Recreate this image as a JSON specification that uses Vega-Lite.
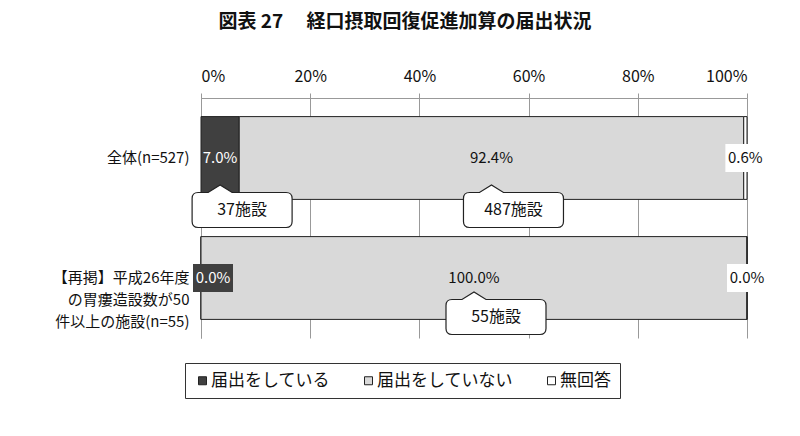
{
  "$schema": "https://vega.github.io/schema/vega-lite/v6.json",
  "width": 546,
  "height": 240,
  "autosize": {"type": "none"},
  "padding": {"left": 201, "top": 98, "right": 53, "bottom": 98},
  "title": {
    "text": "図表 27　 経口摂取回復促進加算の届出状況",
    "fontSize": 19,
    "font": "Noto Sans CJK JP",
    "fontWeight": "bold",
    "anchor": "middle",
    "dx": -69,
    "offset": 36,
    "color": "#111111"
  },
  "config": {"view": {"stroke": null}, "font": "Noto Sans CJK JP"},
  "data": {
    "values": [
      {"row": "全体(n=527)", "category": "届出をしている", "order": 1, "value": 7.0, "facilities": "37施設"},
      {"row": "全体(n=527)", "category": "届出をしていない", "order": 2, "value": 92.4, "facilities": "487施設"},
      {"row": "全体(n=527)", "category": "無回答", "order": 3, "value": 0.6, "facilities": null},
      {"row": "【再掲】平成26年度|の胃瘻造設数が50|件以上の施設(n=55)", "category": "届出をしている", "order": 1, "value": 0.0, "facilities": null},
      {"row": "【再掲】平成26年度|の胃瘻造設数が50|件以上の施設(n=55)", "category": "届出をしていない", "order": 2, "value": 100.0, "facilities": "55施設"},
      {"row": "【再掲】平成26年度|の胃瘻造設数が50|件以上の施設(n=55)", "category": "無回答", "order": 3, "value": 0.0, "facilities": null}
    ]
  },
  "transform": [
    {"stack": "value", "groupby": ["row"], "sort": [{"field": "order", "order": "ascending"}], "as": ["v0", "v1"]},
    {"calculate": "(datum.v0 + datum.v1) / 2", "as": "mid"},
    {"calculate": "format(datum.value, '.1f') + '%'", "as": "label"}
  ],
  "encoding": {
    "y": {
      "field": "row",
      "type": "nominal",
      "sort": ["全体(n=527)", "【再掲】平成26年度|の胃瘻造設数が50|件以上の施設(n=55)"],
      "scale": {"paddingInner": 0.31, "paddingOuter": 0.155},
      "axis": {
        "title": null,
        "labelExpr": "split(datum.label, '|')",
        "labelFontSize": 15,
        "labelColor": "#111111",
        "labelLineHeight": 22,
        "labelPadding": 12,
        "labelLimit": 300,
        "ticks": false,
        "domainColor": "#999999"
      }
    }
  },
  "layer": [
    {
      "mark": {"type": "bar", "stroke": "#222222", "strokeWidth": 1},
      "encoding": {
        "x": {
          "field": "v0",
          "type": "quantitative",
          "scale": {"domain": [0, 100], "nice": false},
          "axis": {
            "orient": "top",
            "title": null,
            "values": [0, 20, 40, 60, 80, 100],
            "labelExpr": "datum.value + '%'",
            "labelFontSize": 16,
            "labelColor": "#111111",
            "tickSize": 5,
            "labelPadding": 9,
            "grid": true,
            "gridColor": "#999999",
            "domainColor": "#999999",
            "tickColor": "#999999"
          }
        },
        "x2": {"field": "v1"},
        "color": {
          "field": "category",
          "type": "nominal",
          "scale": {"domain": ["届出をしている", "届出をしていない", "無回答"], "range": ["#404040", "#d9d9d9", "#ffffff"]},
          "legend": {
            "orient": "none",
            "legendX": -16,
            "legendY": 265,
            "direction": "horizontal",
            "title": null,
            "symbolType": "square",
            "symbolSize": 64,
            "symbolStrokeColor": "#222222",
            "symbolStrokeWidth": 1,
            "labelFontSize": 17,
            "labelColor": "#111111",
            "strokeColor": "#333333",
            "fillColor": "#ffffff",
            "padding": 9,
            "columnPadding": 30,
            "labelOffset": 0
          }
        }
      }
    },
    {
      "transform": [{"filter": "datum.category === '無回答'"}],
      "mark": {"type": "point", "shape": "M-1,-0.7L1,-0.7L1,0.7L-1,0.7Z", "size": 1600, "filled": true, "fill": "#ffffff", "opacity": 1, "strokeWidth": 0},
      "encoding": {"x": {"field": "mid", "type": "quantitative", "title": null}}
    },
    {
      "transform": [{"filter": "datum.category === '届出をしている' && datum.value < 1"}],
      "mark": {"type": "point", "shape": "M-1,-0.7L1,-0.7L1,0.7L-1,0.7Z", "size": 1600, "filled": true, "fill": "#404040", "opacity": 1, "strokeWidth": 0, "xOffset": 12},
      "encoding": {"x": {"field": "mid", "type": "quantitative", "title": null}}
    },
    {
      "transform": [{"filter": "!(datum.category === '届出をしている' && datum.value < 1)"}],
      "mark": {"type": "text", "fontSize": 15, "baseline": "middle", "align": "center"},
      "encoding": {
        "x": {"field": "mid", "type": "quantitative", "title": null},
        "text": {"field": "label"},
        "color": {"condition": {"test": "datum.category === '届出をしている'", "value": "#ffffff"}, "value": "#111111"}
      }
    },
    {
      "transform": [{"filter": "datum.category === '届出をしている' && datum.value < 1"}],
      "mark": {"type": "text", "fontSize": 15, "baseline": "middle", "align": "center", "dx": 12, "color": "#ffffff"},
      "encoding": {
        "x": {"field": "mid", "type": "quantitative", "title": null},
        "text": {"field": "label"}
      }
    },
    {
      "transform": [{"filter": "datum.facilities != null && datum.row === '全体(n=527)'"}],
      "mark": {"type": "point", "shape": "M-0.44,-0.35L-0.24,-0.35L0,-0.5L0.24,-0.35L1.32,-0.35Q1.44,-0.35,1.44,-0.23L1.44,0.23Q1.44,0.35,1.32,0.35L-0.44,0.35Q-0.56,0.35,-0.56,0.23L-0.56,-0.23Q-0.56,-0.35,-0.44,-0.35Z", "size": 10000, "filled": true, "fill": "#ffffff", "stroke": "#222222", "strokeWidth": 1.2, "opacity": 1, "yOffset": 52},
      "encoding": {"x": {"field": "mid", "type": "quantitative", "title": null}}
    },
    {
      "transform": [{"filter": "datum.facilities != null && datum.row !== '全体(n=527)'"}],
      "mark": {"type": "point", "shape": "M-0.44,-0.35L-0.24,-0.35L0,-0.5L0.24,-0.35L1.32,-0.35Q1.44,-0.35,1.44,-0.23L1.44,0.23Q1.44,0.35,1.32,0.35L-0.44,0.35Q-0.56,0.35,-0.56,0.23L-0.56,-0.23Q-0.56,-0.35,-0.44,-0.35Z", "size": 10000, "filled": true, "fill": "#ffffff", "stroke": "#222222", "strokeWidth": 1.2, "opacity": 1, "yOffset": 39},
      "encoding": {"x": {"field": "mid", "type": "quantitative", "title": null}}
    },
    {
      "transform": [{"filter": "datum.facilities != null && datum.row === '全体(n=527)'"}],
      "mark": {"type": "text", "fontSize": 16, "baseline": "middle", "align": "center", "dx": 22, "dy": 52, "color": "#111111"},
      "encoding": {"x": {"field": "mid", "type": "quantitative", "title": null}, "text": {"field": "facilities"}}
    },
    {
      "transform": [{"filter": "datum.facilities != null && datum.row !== '全体(n=527)'"}],
      "mark": {"type": "text", "fontSize": 16, "baseline": "middle", "align": "center", "dx": 22, "dy": 39, "color": "#111111"},
      "encoding": {"x": {"field": "mid", "type": "quantitative", "title": null}, "text": {"field": "facilities"}}
    }
  ]
}
